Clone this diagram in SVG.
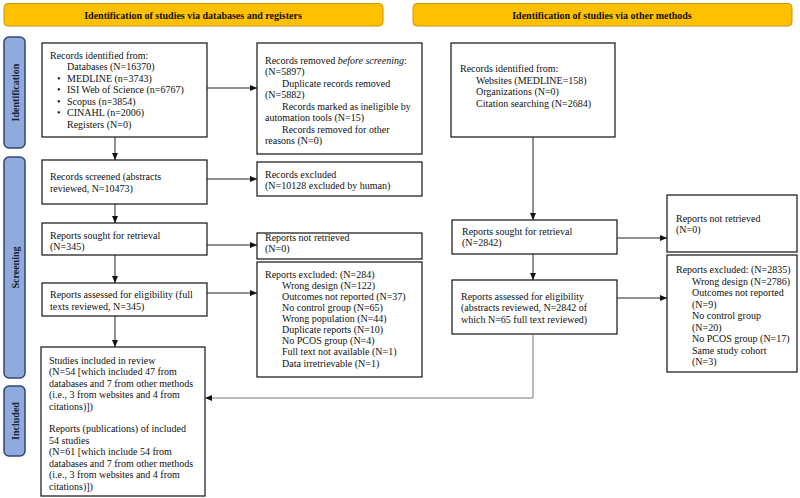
<svg xmlns="http://www.w3.org/2000/svg" width="800" height="498" viewBox="0 0 800 498">
<defs>
<style>
text{font-family:"Liberation Serif","Times New Roman",serif;font-size:10px;fill:#111}
.box{fill:#fff;stroke:#111;stroke-width:1.2}
.banner{fill:#FFC000;stroke:#C89600;stroke-width:1}
.side{fill:#8FAADC;stroke:#2F4670;stroke-width:1.5}
.bt{font-weight:bold;text-anchor:middle}
.st{font-weight:bold;text-anchor:middle;fill:#1a2233}
.ln{fill:none;stroke:#222;stroke-width:1}
.lg{fill:none;stroke:#777;stroke-width:1}
</style>
<marker id="ah" markerWidth="7" markerHeight="6" refX="7" refY="3" orient="auto" markerUnits="userSpaceOnUse">
<path d="M0,0 L7,3 L0,6 Z" fill="#111"/>
</marker>
</defs>
<rect width="800" height="498" fill="#fff"/>

<g id="banner-left"><rect class="banner" x="4" y="3.5" width="379" height="22.5" rx="4"/><text class="bt" x="193" y="18.5">Identification of studies via databases and registers</text></g>
<g id="banner-right"><rect class="banner" x="413" y="3.5" width="379" height="22.5" rx="4"/><text class="bt" x="602" y="18.5">Identification of studies via other methods</text></g>

<g id="side-identification"><rect class="side" x="4" y="37" width="21" height="111" rx="5"/><text class="st" transform="translate(18.5,92.5) rotate(-90)">Identification</text></g>
<g id="side-screening"><rect class="side" x="4" y="157" width="21" height="221" rx="5"/><text class="st" transform="translate(18.5,267.5) rotate(-90)">Screening</text></g>
<g id="side-included"><rect class="side" x="4" y="386" width="21" height="70" rx="5"/><text class="st" transform="translate(18.5,421) rotate(-90)">Included</text></g>

<g id="records-identified">
<rect class="box" x="42" y="43" width="165" height="94"/>
<text x="50" y="58.5">Records identified from:</text>
<text x="67" y="70">Databases (N=16370)</text>
<text x="57" y="81.5">•</text><text x="67" y="81.5">MEDLINE (n=3743)</text>
<text x="57" y="93">•</text><text x="67" y="93">ISI Web of Science (n=6767)</text>
<text x="57" y="104.5">•</text><text x="67" y="104.5">Scopus (n=3854)</text>
<text x="57" y="116">•</text><text x="67" y="116">CINAHL (n=2006)</text>
<text x="67" y="128">Registers (N=0)</text>
</g>

<g id="records-removed">
<rect class="box" x="257" y="43" width="165" height="111"/>
<text x="265" y="63.5">Records removed <tspan font-style="italic">before screening</tspan>:</text>
<text x="265" y="75">(N=5897)</text>
<text x="282" y="86.5">Duplicate records removed</text>
<text x="265" y="98">(N=5882)</text>
<text x="282" y="109.5">Records marked as ineligible by</text>
<text x="265" y="121">automation tools (N=15)</text>
<text x="282" y="132.5">Records removed for other</text>
<text x="265" y="144">reasons (N=0)</text>
</g>

<g id="other-records-identified">
<rect class="box" x="451" y="43" width="164" height="94"/>
<text x="460" y="72">Records identified from:</text>
<text x="476" y="83.5">Websites (MEDLINE=158)</text>
<text x="476" y="95">Organizations (N=0)</text>
<text x="476" y="106.5">Citation searching (N=2684)</text>
</g>

<g id="records-screened">
<rect class="box" x="42" y="160" width="165" height="44"/>
<text x="50" y="180">Records screened (abstracts</text>
<text x="50" y="191.5">reviewed, N=10473)</text>
</g>

<g id="records-excluded">
<rect class="box" x="257" y="162" width="165" height="34"/>
<text x="265" y="177.5">Records excluded</text>
<text x="265" y="189">(N=10128 excluded by human)</text>
</g>

<g id="reports-sought">
<rect class="box" x="42" y="223" width="165" height="32"/>
<text x="50" y="238.5">Reports sought for retrieval</text>
<text x="50" y="250">(N=345)</text>
</g>

<g id="reports-not-retrieved">
<rect class="box" x="257" y="233" width="165" height="26"/>
<text x="265" y="240.5">Reports not retrieved</text>
<text x="265" y="252">(N=0)</text>
</g>

<g id="reports-assessed">
<rect class="box" x="42" y="283" width="165" height="33"/>
<text x="50" y="298">Reports assessed for eligibility (full</text>
<text x="50" y="309.5">texts reviewed, N=345)</text>
</g>

<g id="reports-excluded">
<rect class="box" x="257" y="262" width="165" height="115"/>
<text x="265" y="277.5">Reports excluded: (N=284)</text>
<text x="282" y="288.5">Wrong design (N=122)</text>
<text x="282" y="299.5">Outcomes not reported (N=37)</text>
<text x="282" y="310.5">No control group (N=65)</text>
<text x="282" y="321.5">Wrong population (N=44)</text>
<text x="282" y="332.5">Duplicate reports (N=10)</text>
<text x="282" y="343.5">No PCOS group (N=4)</text>
<text x="282" y="355">Full text not available (N=1)</text>
<text x="282" y="366.5">Data irretrievable (N=1)</text>
</g>

<g id="studies-included">
<rect class="box" x="41" y="347" width="164" height="149"/>
<text x="49" y="363.5">Studies included in review</text>
<text x="49" y="375">(N=54 [which included 47 from</text>
<text x="49" y="386.5">databases and 7  from other methods</text>
<text x="49" y="398">(i.e., 3 from websites and 4 from</text>
<text x="49" y="409.5">citations)])</text>
<text x="49" y="432">Reports (publications) of included</text>
<text x="49" y="443.5">54 studies</text>
<text x="49" y="455">(N=61 [which include 54 from</text>
<text x="49" y="466.5">databases and 7 from other methods</text>
<text x="49" y="478">(i.e., 3 from websites and 4 from</text>
<text x="49" y="489.5">citations)])</text>
</g>

<g id="other-reports-sought">
<rect class="box" x="452" y="220" width="165" height="34"/>
<text x="462" y="234.5">Reports sought for retrieval</text>
<text x="462" y="246">(N=2842)</text>
</g>

<g id="other-reports-not-retrieved">
<rect class="box" x="667" y="195" width="130" height="57"/>
<text x="676" y="221.5">Reports not retrieved</text>
<text x="676" y="233">(N=0)</text>
</g>

<g id="other-reports-assessed">
<rect class="box" x="452" y="280" width="165" height="54"/>
<text x="461" y="299.5">Reports assessed for eligibility</text>
<text x="461" y="311">(abstracts reviewed, N=2842 of</text>
<text x="461" y="322.5">which N=65 full text reviewed)</text>
</g>

<g id="other-reports-excluded">
<rect class="box" x="667" y="255" width="130" height="117"/>
<text x="676" y="272.5">Reports excluded: (N=2835)</text>
<text x="692" y="284.5">Wrong design (N=2786)</text>
<text x="692" y="296">Outcomes not reported</text>
<text x="692" y="307.5">(N=9)</text>
<text x="692" y="319">No control group</text>
<text x="692" y="330.5">(N=20)</text>
<text x="692" y="342">No PCOS group (N=17)</text>
<text x="692" y="353.5">Same study cohort</text>
<text x="692" y="365">(N=3)</text>
</g>

<g id="connectors">
<path class="ln" d="M207,88 H257" marker-end="url(#ah)"/>
<path class="ln" d="M115,137 V160" marker-end="url(#ah)"/>
<path class="ln" d="M207,179 H257" marker-end="url(#ah)"/>
<path class="ln" d="M115,204 V223" marker-end="url(#ah)"/>
<path class="ln" d="M207,245 H257" marker-end="url(#ah)"/>
<path class="ln" d="M115,255 V283" marker-end="url(#ah)"/>
<path class="ln" d="M207,293 H257" marker-end="url(#ah)"/>
<path class="ln" d="M115,316 V347" marker-end="url(#ah)"/>
<path class="ln" d="M533,137 V220" marker-end="url(#ah)"/>
<path class="ln" d="M617,238 H667" marker-end="url(#ah)"/>
<path class="ln" d="M533,254 V280" marker-end="url(#ah)"/>
<path class="ln" d="M617,298 H667" marker-end="url(#ah)"/>
<path class="lg" d="M533,334 V398 H205" marker-end="url(#ah)"/>
</g>
</svg>
